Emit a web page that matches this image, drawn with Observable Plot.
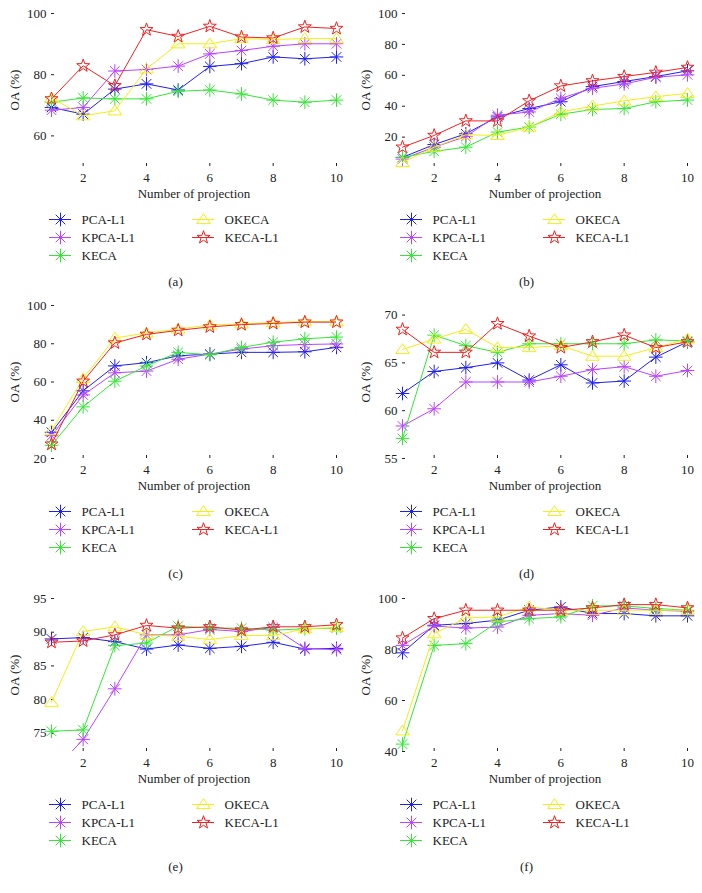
<!DOCTYPE html>
<html><head><meta charset="utf-8">
<script src="https://cdn.jsdelivr.net/npm/d3@7"></script>
<script src="https://cdn.jsdelivr.net/npm/@observablehq/plot@0.6"></script>
<style>
body{margin:0;background:#fff;}
#root{position:relative;width:702px;height:893px;font-family:"Liberation Serif","DejaVu Serif",serif;color:#222;}
.panel{position:absolute;width:351px;height:292px;}
.panel svg{position:absolute;left:0;font-family:"Liberation Serif","DejaVu Serif",serif !important;font-size:13px !important;font-variant:normal !important;background:transparent !important;}
.panel svg text{font-family:"Liberation Serif","DejaVu Serif",serif !important;}
.caption{position:absolute;top:274px;left:0;width:351px;text-align:center;font-size:13px;line-height:16px;}
</style></head>
<body><div id="root"></div>
<script>
const projections = [1,2,3,4,5,6,7,8,9,10];
const seriesNames = ["PCA-L1","KPCA-L1","KECA","OKECA","KECA-L1"];
const panelLabels = ["(a)","(b)","(c)","(d)","(e)","(f)"];
const xTicks = [2,4,6,8,10];

// values per panel: rows = PCA-L1, KPCA-L1, KECA, OKECA, KECA-L1
const panelA = [
  [69.3,67.1,75.3,77.0,75.0,82.7,83.6,85.8,85.2,85.8],
  [68.4,69.3,81.2,81.7,82.8,86.8,87.9,89.3,90.1,90.1],
  [71.0,72.4,72.1,72.1,74.6,75.0,73.7,71.7,71.0,71.7],
  [72.4,66.6,68.2,81.9,90.1,90.1,91.8,91.5,91.8,91.8],
  [72.1,82.9,76.4,94.7,92.5,95.8,92.3,92.0,95.6,95.1]
];
const panelB = [
  [6.9,15.2,22.2,33.1,38.5,42.9,52.7,56.0,59.2,62.9],
  [5.8,13.5,20.4,34.2,36.3,45.1,51.6,54.4,58.8,60.3],
  [6.9,10.8,13.5,23.3,26.5,34.8,37.9,38.5,42.9,44.0],
  [3.6,13.5,21.5,21.1,26.5,36.3,40.1,43.5,46.2,48.3],
  [13.5,21.1,30.5,30.5,43.5,53.1,56.4,59.2,61.9,65.1]
];
const panelC = [
  [33.7,55.4,68.4,70.1,73.7,74.6,75.5,75.5,75.8,78.1],
  [31.9,53.2,64.8,65.7,71.9,74.6,77.2,79.0,79.6,79.9],
  [26.9,47.0,60.4,68.4,75.5,74.2,78.1,80.8,82.6,83.5],
  [34.6,61.8,83.0,85.6,87.7,89.8,90.4,91.1,91.6,91.6],
  [27.5,60.4,80.4,84.9,87.0,88.8,90.0,90.6,91.3,91.3]
];
const panelD = [
  [61.8,64.1,64.5,65.0,63.2,64.8,62.9,63.1,65.6,67.2],
  [58.4,60.2,63.0,63.0,63.0,63.6,64.3,64.6,63.6,64.2],
  [57.1,67.9,66.8,66.1,67.0,67.0,67.0,67.0,67.4,67.3],
  [66.4,67.5,68.5,66.6,66.6,66.8,65.7,65.7,66.6,67.5],
  [68.5,66.1,66.1,69.1,67.8,66.6,67.2,67.9,66.6,67.2]
];
const panelE = [
  [89.0,89.2,88.6,87.5,88.1,87.6,87.9,88.5,87.5,87.6],
  [69.1,74.1,81.6,89.6,89.6,90.4,90.1,90.7,87.6,87.4],
  [75.3,75.5,88.0,88.4,90.9,90.6,90.6,90.3,90.5,90.6],
  [79.6,90.1,90.8,89.6,89.4,88.9,89.5,89.5,90.5,90.7],
  [88.5,88.7,89.6,91.0,90.6,90.8,90.3,90.8,90.8,91.1]
];
const panelF = [
  [78.7,89.5,90.2,91.5,95.4,96.7,94.1,94.1,93.2,93.2],
  [81.6,89.2,88.4,88.8,93.4,94.1,93.4,96.3,95.4,95.0],
  [42.9,81.6,82.3,90.8,92.1,92.8,97.1,97.1,96.1,95.4],
  [48.1,86.2,92.4,92.8,96.7,95.4,95.4,95.4,95.4,95.4],
  [84.5,92.1,95.4,95.4,95.4,95.4,96.3,97.6,97.6,96.3]
];
const yDomains = [[50,100],[1,100],[20,100],[55,71],[72.3,95],[40,100]];
const yTickSets = [[60,80,100],[20,40,60,80,100],[20,40,60,80,100],[55,60,65,70],[75,80,85,90,95],[40,60,80,100]];
const panels = [panelA,panelB,panelC,panelD,panelE,panelF];
const rowTops = [0, 292, 585];

const colors = ["#2020ee","#bb44ff","#33e833","#f0f014","#ee2222"];

// marker shapes
const asterisk8 = {draw(ctx, size){ const r = Math.sqrt(size/Math.PI); const d = r*Math.SQRT1_2;
  ctx.moveTo(-r,0);ctx.lineTo(r,0);ctx.moveTo(0,-r);ctx.lineTo(0,r);
  ctx.moveTo(-d,-d);ctx.lineTo(d,d);ctx.moveTo(-d,d);ctx.lineTo(d,-d);}};
const triangleUp = {draw(ctx, size){ const r = Math.sqrt(size/Math.PI);
  ctx.moveTo(0,-0.85*r);ctx.lineTo(r,0.6*r);ctx.lineTo(-r,0.6*r);ctx.closePath();}};
const pentagram = {draw(ctx, size){ const r = Math.sqrt(size/Math.PI); const ri = r*0.4;
  for(let k=0;k<10;k++){ const a = -Math.PI/2 + k*Math.PI/5; const rr = k%2? ri : r;
    const px = rr*Math.cos(a), py = rr*Math.sin(a); if(k===0) ctx.moveTo(px,py); else ctx.lineTo(px,py);} ctx.closePath();}};
const symbols = [asterisk8, asterisk8, asterisk8, triangleUp, pentagram];
const fontFamily = '"Liberation Serif","DejaVu Serif",serif';

function fixFonts(svg){
  svg.querySelectorAll("text, g").forEach(el=>{
    el.style.setProperty("font-family", fontFamily, "important");
    el.style.setProperty("font-size", "13px", "important");
    el.style.setProperty("font-variant", "normal", "important");
  });
  return svg;
}

function chart(values, yDomain, yTicks){
  const marks = [
    Plot.axisX({ticks:xTicks, tickSize:-3, tickPadding:9, line:true, label:"Number of projection", labelAnchor:"center", labelArrow:"none", labelOffset:31, fontSize:13, fontFamily}),
    Plot.axisY({ticks:yTicks, tickSize:-3, tickPadding:8, line:true, label:"OA (%)", labelAnchor:"center", labelArrow:"none", labelOffset:42, fontSize:13, fontFamily})
  ];
  seriesNames.forEach((s,i)=>{
    const data = values[i].map((v,j)=>({series:s, x:projections[j], y:v}));
    marks.push(Plot.lineY(data, {x:"x", y:"y", stroke:colors[i], strokeWidth:1, clip:true}));
    marks.push(Plot.dot(data, {x:"x", y:"y", stroke:colors[i], fill:"none", strokeWidth:1, r:6.8, symbol:symbols[i], filter:d=>d.y>=yDomain[0] && d.y<=yDomain[1]}));
  });
  return fixFonts(Plot.plot({
    width:351, height:200, marginLeft:51, marginRight:15, marginTop:13, marginBottom:34,
    style:{fontFamily, fontSize:"13px", color:"#222", background:"transparent", overflow:"visible"},
    x:{domain:[1,10]},
    y:{domain:yDomain},
    marks
  }));
}

function legend(){
  const items = seriesNames.map((s,i)=>({name:s, col:i<3?0:1, row:i<3?i:i-3, color:colors[i], sym:symbols[i]}));
  const marks = [];
  items.forEach((it)=>{
    marks.push(Plot.ruleY([it], {y:"row", x1:"col", x2:"col", insetLeft:-11, insetRight:-11, stroke:it.color, strokeWidth:1}));
    marks.push(Plot.dot([it], {x:"col", y:"row", stroke:it.color, fill:"none", r:6.8, symbol:it.sym, strokeWidth:1}));
    marks.push(Plot.text([it], {x:"col", y:"row", text:"name", dx:21, textAnchor:"start", fill:"#222", fontSize:13, fontFamily}));
  });
  return fixFonts(Plot.plot({
    width:351, height:60, margin:0,
    style:{fontFamily, fontSize:"13px", color:"#222", background:"transparent", overflow:"visible"},
    x:{domain:[0,1], range:[60,203], axis:null},
    y:{domain:[0,1,2], type:"point", range:[8,44], padding:0, axis:null},
    marks
  }));
}

const root = document.getElementById("root");
panels.forEach((vals, p)=>{
  const div = document.createElement("div");
  div.className = "panel";
  div.style.left = (p%2)*351 + "px";
  div.style.top = rowTops[Math.floor(p/2)] + "px";
  const c = chart(vals, yDomains[p], yTickSets[p]);
  c.style.top = "0px";
  div.appendChild(c);
  const l = legend();
  l.style.top = "211px";
  div.appendChild(l);
  const cap = document.createElement("div");
  cap.className = "caption";
  cap.textContent = panelLabels[p];
  div.appendChild(cap);
  root.appendChild(div);
});
</script>
</body></html>
